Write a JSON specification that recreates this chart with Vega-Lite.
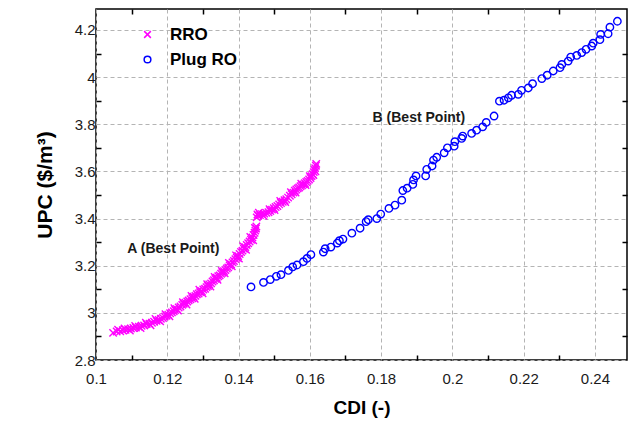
{
  "$schema": "https://vega.github.io/schema/vega-lite/v6.json",
  "width": 531,
  "height": 351,
  "autosize": {"type": "none"},
  "padding": {"left": 96, "top": 9, "right": 6, "bottom": 69},
  "background": "white",
  "config": {
    "view": {"stroke": "black", "strokeWidth": 1.5},
    "font": "Liberation Sans"
  },
  "resolve": {"axis": {"x": "independent", "y": "independent"}},
  "layer": [
    {
      "data": {
        "values": [
          {"x":0.1048,"y":2.915,"s":"RRO"},{"x":0.1058,"y":2.921,"s":"RRO"},{"x":0.1068,"y":2.922,"s":"RRO"},{"x":0.1075,"y":2.926,"s":"RRO"},
          {"x":0.1083,"y":2.928,"s":"RRO"},{"x":0.1090,"y":2.931,"s":"RRO"},{"x":0.1098,"y":2.933,"s":"RRO"},{"x":0.1105,"y":2.936,"s":"RRO"},
          {"x":0.1112,"y":2.938,"s":"RRO"},{"x":0.1120,"y":2.941,"s":"RRO"},{"x":0.1128,"y":2.945,"s":"RRO"},{"x":0.1135,"y":2.947,"s":"RRO"},
          {"x":0.1142,"y":2.952,"s":"RRO"},{"x":0.1150,"y":2.954,"s":"RRO"},{"x":0.1157,"y":2.958,"s":"RRO"},{"x":0.1163,"y":2.962,"s":"RRO"},
          {"x":0.1170,"y":2.966,"s":"RRO"},{"x":0.1176,"y":2.970,"s":"RRO"},{"x":0.1182,"y":2.975,"s":"RRO"},{"x":0.1188,"y":2.978,"s":"RRO"},
          {"x":0.1193,"y":2.984,"s":"RRO"},{"x":0.1198,"y":2.988,"s":"RRO"},{"x":0.1203,"y":2.992,"s":"RRO"},{"x":0.1208,"y":2.998,"s":"RRO"},
          {"x":0.1213,"y":3.002,"s":"RRO"},{"x":0.1218,"y":3.007,"s":"RRO"},{"x":0.1222,"y":3.012,"s":"RRO"},{"x":0.1227,"y":3.016,"s":"RRO"},
          {"x":0.1232,"y":3.023,"s":"RRO"},{"x":0.1237,"y":3.027,"s":"RRO"},{"x":0.1242,"y":3.034,"s":"RRO"},{"x":0.1246,"y":3.038,"s":"RRO"},
          {"x":0.1251,"y":3.043,"s":"RRO"},{"x":0.1256,"y":3.048,"s":"RRO"},{"x":0.1260,"y":3.053,"s":"RRO"},{"x":0.1265,"y":3.058,"s":"RRO"},
          {"x":0.1270,"y":3.062,"s":"RRO"},{"x":0.1274,"y":3.068,"s":"RRO"},{"x":0.1279,"y":3.072,"s":"RRO"},{"x":0.1283,"y":3.079,"s":"RRO"},
          {"x":0.1288,"y":3.082,"s":"RRO"},{"x":0.1292,"y":3.088,"s":"RRO"},{"x":0.1297,"y":3.092,"s":"RRO"},{"x":0.1301,"y":3.099,"s":"RRO"},
          {"x":0.1306,"y":3.102,"s":"RRO"},{"x":0.1310,"y":3.109,"s":"RRO"},{"x":0.1314,"y":3.114,"s":"RRO"},{"x":0.1318,"y":3.121,"s":"RRO"},
          {"x":0.1323,"y":3.125,"s":"RRO"},{"x":0.1327,"y":3.133,"s":"RRO"},{"x":0.1331,"y":3.138,"s":"RRO"},{"x":0.1335,"y":3.144,"s":"RRO"},
          {"x":0.1339,"y":3.149,"s":"RRO"},{"x":0.1343,"y":3.155,"s":"RRO"},{"x":0.1347,"y":3.159,"s":"RRO"},{"x":0.1351,"y":3.166,"s":"RRO"},
          {"x":0.1355,"y":3.170,"s":"RRO"},{"x":0.1359,"y":3.177,"s":"RRO"},{"x":0.1363,"y":3.182,"s":"RRO"},{"x":0.1367,"y":3.188,"s":"RRO"},
          {"x":0.1371,"y":3.193,"s":"RRO"},{"x":0.1375,"y":3.201,"s":"RRO"},{"x":0.1379,"y":3.206,"s":"RRO"},{"x":0.1383,"y":3.214,"s":"RRO"},
          {"x":0.1387,"y":3.220,"s":"RRO"},{"x":0.1391,"y":3.228,"s":"RRO"},{"x":0.1395,"y":3.234,"s":"RRO"},{"x":0.1399,"y":3.241,"s":"RRO"},
          {"x":0.1403,"y":3.250,"s":"RRO"},{"x":0.1407,"y":3.258,"s":"RRO"},{"x":0.1411,"y":3.264,"s":"RRO"},{"x":0.1415,"y":3.272,"s":"RRO"},
          {"x":0.1419,"y":3.279,"s":"RRO"},{"x":0.1423,"y":3.288,"s":"RRO"},{"x":0.1427,"y":3.295,"s":"RRO"},{"x":0.1431,"y":3.303,"s":"RRO"},
          {"x":0.1435,"y":3.310,"s":"RRO"},{"x":0.1439,"y":3.320,"s":"RRO"},{"x":0.1442,"y":3.330,"s":"RRO"},{"x":0.1445,"y":3.340,"s":"RRO"},
          {"x":0.1447,"y":3.349,"s":"RRO"},{"x":0.1449,"y":3.358,"s":"RRO"},{"x":0.1450,"y":3.366,"s":"RRO"},{"x":0.1451,"y":3.405,"s":"RRO"},
          {"x":0.1453,"y":3.417,"s":"RRO"},{"x":0.1455,"y":3.412,"s":"RRO"},{"x":0.1460,"y":3.415,"s":"RRO"},{"x":0.1466,"y":3.419,"s":"RRO"},
          {"x":0.1472,"y":3.421,"s":"RRO"},{"x":0.1478,"y":3.424,"s":"RRO"},{"x":0.1484,"y":3.427,"s":"RRO"},{"x":0.1489,"y":3.432,"s":"RRO"},
          {"x":0.1494,"y":3.438,"s":"RRO"},{"x":0.1499,"y":3.444,"s":"RRO"},{"x":0.1504,"y":3.449,"s":"RRO"},{"x":0.1509,"y":3.453,"s":"RRO"},
          {"x":0.1514,"y":3.460,"s":"RRO"},{"x":0.1519,"y":3.466,"s":"RRO"},{"x":0.1524,"y":3.471,"s":"RRO"},{"x":0.1529,"y":3.478,"s":"RRO"},
          {"x":0.1534,"y":3.482,"s":"RRO"},{"x":0.1539,"y":3.489,"s":"RRO"},{"x":0.1544,"y":3.497,"s":"RRO"},{"x":0.1549,"y":3.503,"s":"RRO"},
          {"x":0.1554,"y":3.510,"s":"RRO"},{"x":0.1558,"y":3.518,"s":"RRO"},{"x":0.1562,"y":3.523,"s":"RRO"},{"x":0.1566,"y":3.528,"s":"RRO"},
          {"x":0.1570,"y":3.532,"s":"RRO"},{"x":0.1574,"y":3.537,"s":"RRO"},{"x":0.1578,"y":3.541,"s":"RRO"},{"x":0.1582,"y":3.545,"s":"RRO"},
          {"x":0.1586,"y":3.550,"s":"RRO"},{"x":0.1590,"y":3.555,"s":"RRO"},{"x":0.1594,"y":3.560,"s":"RRO"},{"x":0.1598,"y":3.566,"s":"RRO"},
          {"x":0.1602,"y":3.572,"s":"RRO"},{"x":0.1605,"y":3.580,"s":"RRO"},{"x":0.1608,"y":3.588,"s":"RRO"},{"x":0.1611,"y":3.597,"s":"RRO"},
          {"x":0.1613,"y":3.606,"s":"RRO"},{"x":0.1615,"y":3.614,"s":"RRO"},{"x":0.1617,"y":3.624,"s":"RRO"},{"x":0.1618,"y":3.632,"s":"RRO"},
          {"x":0.1062,"y":2.928,"s":"RRO"},{"x":0.1080,"y":2.934,"s":"RRO"},{"x":0.1095,"y":2.925,"s":"RRO"},{"x":0.1110,"y":2.944,"s":"RRO"},
          {"x":0.1125,"y":2.936,"s":"RRO"},{"x":0.1140,"y":2.958,"s":"RRO"},{"x":0.1153,"y":2.947,"s":"RRO"},{"x":0.1167,"y":2.974,"s":"RRO"},
          {"x":0.1180,"y":2.964,"s":"RRO"},{"x":0.1195,"y":2.994,"s":"RRO"},{"x":0.1206,"y":2.985,"s":"RRO"},{"x":0.1220,"y":3.020,"s":"RRO"},
          {"x":0.1230,"y":3.010,"s":"RRO"},{"x":0.1244,"y":3.045,"s":"RRO"},{"x":0.1254,"y":3.035,"s":"RRO"},{"x":0.1268,"y":3.072,"s":"RRO"},
          {"x":0.1277,"y":3.060,"s":"RRO"},{"x":0.1290,"y":3.098,"s":"RRO"},{"x":0.1299,"y":3.083,"s":"RRO"},{"x":0.1312,"y":3.122,"s":"RRO"},
          {"x":0.1321,"y":3.112,"s":"RRO"},{"x":0.1333,"y":3.152,"s":"RRO"},{"x":0.1341,"y":3.140,"s":"RRO"},{"x":0.1353,"y":3.178,"s":"RRO"},
          {"x":0.1361,"y":3.168,"s":"RRO"},{"x":0.1373,"y":3.212,"s":"RRO"},{"x":0.1381,"y":3.198,"s":"RRO"},{"x":0.1393,"y":3.244,"s":"RRO"},
          {"x":0.1401,"y":3.230,"s":"RRO"},{"x":0.1413,"y":3.283,"s":"RRO"},{"x":0.1421,"y":3.268,"s":"RRO"},{"x":0.1433,"y":3.322,"s":"RRO"},
          {"x":0.1441,"y":3.308,"s":"RRO"},{"x":0.1446,"y":3.360,"s":"RRO"},{"x":0.1457,"y":3.425,"s":"RRO"},{"x":0.1470,"y":3.412,"s":"RRO"},
          {"x":0.1487,"y":3.440,"s":"RRO"},{"x":0.1501,"y":3.436,"s":"RRO"},{"x":0.1517,"y":3.475,"s":"RRO"},{"x":0.1531,"y":3.470,"s":"RRO"},
          {"x":0.1547,"y":3.512,"s":"RRO"},{"x":0.1560,"y":3.510,"s":"RRO"},{"x":0.1576,"y":3.548,"s":"RRO"},{"x":0.1588,"y":3.542,"s":"RRO"},
          {"x":0.1600,"y":3.580,"s":"RRO"},{"x":0.1610,"y":3.585,"s":"RRO"},{"x":0.1616,"y":3.600,"s":"RRO"},
          {"x":0.1435,"y":3.110,"s":"Plug RO"},{"x":0.1470,"y":3.129,"s":"Plug RO"},{"x":0.1489,"y":3.141,"s":"Plug RO"},{"x":0.1506,"y":3.155,"s":"Plug RO"},
          {"x":0.1519,"y":3.162,"s":"Plug RO"},{"x":0.1540,"y":3.180,"s":"Plug RO"},{"x":0.1552,"y":3.195,"s":"Plug RO"},{"x":0.1564,"y":3.203,"s":"Plug RO"},
          {"x":0.1582,"y":3.217,"s":"Plug RO"},{"x":0.1592,"y":3.231,"s":"Plug RO"},{"x":0.1603,"y":3.247,"s":"Plug RO"},{"x":0.1638,"y":3.258,"s":"Plug RO"},
          {"x":0.1643,"y":3.272,"s":"Plug RO"},{"x":0.1659,"y":3.279,"s":"Plug RO"},{"x":0.1677,"y":3.296,"s":"Plug RO"},{"x":0.1683,"y":3.306,"s":"Plug RO"},
          {"x":0.1693,"y":3.313,"s":"Plug RO"},{"x":0.1718,"y":3.338,"s":"Plug RO"},{"x":0.1741,"y":3.359,"s":"Plug RO"},{"x":0.1758,"y":3.387,"s":"Plug RO"},
          {"x":0.1764,"y":3.395,"s":"Plug RO"},{"x":0.1788,"y":3.400,"s":"Plug RO"},{"x":0.1799,"y":3.419,"s":"Plug RO"},{"x":0.1822,"y":3.443,"s":"Plug RO"},
          {"x":0.1839,"y":3.457,"s":"Plug RO"},{"x":0.1858,"y":3.478,"s":"Plug RO"},{"x":0.1861,"y":3.519,"s":"Plug RO"},{"x":0.1873,"y":3.529,"s":"Plug RO"},
          {"x":0.1889,"y":3.545,"s":"Plug RO"},{"x":0.1891,"y":3.564,"s":"Plug RO"},{"x":0.1898,"y":3.581,"s":"Plug RO"},{"x":0.1925,"y":3.581,"s":"Plug RO"},
          {"x":0.1928,"y":3.609,"s":"Plug RO"},{"x":0.1943,"y":3.623,"s":"Plug RO"},{"x":0.1947,"y":3.648,"s":"Plug RO"},{"x":0.1956,"y":3.660,"s":"Plug RO"},
          {"x":0.1977,"y":3.679,"s":"Plug RO"},{"x":0.1986,"y":3.700,"s":"Plug RO"},{"x":0.2005,"y":3.707,"s":"Plug RO"},{"x":0.2007,"y":3.726,"s":"Plug RO"},
          {"x":0.2026,"y":3.740,"s":"Plug RO"},{"x":0.2029,"y":3.750,"s":"Plug RO"},{"x":0.2054,"y":3.761,"s":"Plug RO"},{"x":0.2068,"y":3.775,"s":"Plug RO"},
          {"x":0.2085,"y":3.789,"s":"Plug RO"},{"x":0.2095,"y":3.808,"s":"Plug RO"},{"x":0.2117,"y":3.835,"s":"Plug RO"},{"x":0.2132,"y":3.898,"s":"Plug RO"},
          {"x":0.2145,"y":3.902,"s":"Plug RO"},{"x":0.2157,"y":3.912,"s":"Plug RO"},{"x":0.2166,"y":3.923,"s":"Plug RO"},{"x":0.2185,"y":3.927,"s":"Plug RO"},
          {"x":0.2194,"y":3.944,"s":"Plug RO"},{"x":0.2213,"y":3.954,"s":"Plug RO"},{"x":0.2225,"y":3.972,"s":"Plug RO"},{"x":0.2251,"y":3.994,"s":"Plug RO"},
          {"x":0.2266,"y":4.008,"s":"Plug RO"},{"x":0.2283,"y":4.026,"s":"Plug RO"},{"x":0.2302,"y":4.040,"s":"Plug RO"},{"x":0.2307,"y":4.054,"s":"Plug RO"},
          {"x":0.2325,"y":4.068,"s":"Plug RO"},{"x":0.2332,"y":4.085,"s":"Plug RO"},{"x":0.2349,"y":4.092,"s":"Plug RO"},{"x":0.2363,"y":4.104,"s":"Plug RO"},
          {"x":0.2375,"y":4.118,"s":"Plug RO"},{"x":0.2391,"y":4.132,"s":"Plug RO"},{"x":0.2395,"y":4.144,"s":"Plug RO"},{"x":0.2414,"y":4.159,"s":"Plug RO"},
          {"x":0.2416,"y":4.181,"s":"Plug RO"},{"x":0.2437,"y":4.184,"s":"Plug RO"},{"x":0.2442,"y":4.212,"s":"Plug RO"},{"x":0.2463,"y":4.237,"s":"Plug RO"}
        ]
      },
      "mark": {"type": "point", "filled": false, "strokeWidth": 1.4, "size": 55, "opacity": 1},
      "encoding": {
        "x": {
          "field": "x", "type": "quantitative",
          "scale": {"domain": [0.1, 0.249], "nice": false, "zero": false},
          "axis": {
            "orient": "bottom",
            "values": [0.1,0.11,0.12,0.13,0.14,0.15,0.16,0.17,0.18,0.19,0.2,0.21,0.22,0.23,0.24],
            "labelExpr": "round(datum.value*100)%2==0 ? format(datum.value,'') : ''",
            "labelFlush": false,
            "domain": false,
            "grid": true,
            "gridColor": "#b4b4b4",
            "gridDash": [4, 3],
            "gridWidth": 1,
            "gridOpacity": {"condition": {"test": "round(datum.value*100)%2==0", "value": 1}, "value": 0},
            "tickOpacity": {"condition": {"test": "round(datum.value*100)%2==1", "value": 1}, "value": 0},
            "tickColor": "black",
            "tickWidth": 1.5,
            "tickSize": -5,
            "labelPadding": 16,
            "labelFontSize": 15,
            "labelColor": "#1a1a1a",
            "labelFont": "Liberation Sans",
            "title": "CDI (-)",
            "titleFontSize": 19,
            "titleFontWeight": "bold",
            "titleColor": "black",
            "titlePadding": 12
          }
        },
        "y": {
          "field": "y", "type": "quantitative",
          "scale": {"domain": [2.8, 4.289], "nice": false, "zero": false},
          "axis": {
            "orient": "left",
            "values": [2.8,2.9,3.0,3.1,3.2,3.3,3.4,3.5,3.6,3.7,3.8,3.9,4.0,4.1,4.2],
            "labelExpr": "round(datum.value*10)%2==0 ? format(datum.value,'') : ''",
            "labelFlush": false,
            "domain": false,
            "grid": true,
            "gridColor": "#b4b4b4",
            "gridDash": [4, 3],
            "gridWidth": 1,
            "gridOpacity": {"condition": {"test": "round(datum.value*10)%2==0", "value": 1}, "value": 0},
            "tickOpacity": {"condition": {"test": "round(datum.value*10)%2==1", "value": 1}, "value": 0},
            "tickColor": "black",
            "tickWidth": 1.5,
            "tickSize": -5,
            "labelPadding": 6,
            "labelFontSize": 15,
            "labelColor": "#1a1a1a",
            "labelFont": "Liberation Sans",
            "title": "UPC ($/m³)",
            "titleFontSize": 21,
            "titleFontWeight": "bold",
            "titleColor": "black",
            "titlePadding": 19
          }
        },
        "color": {
          "field": "s", "type": "nominal",
          "scale": {"domain": ["RRO", "Plug RO"], "range": ["#ff00ff", "#0000ff"]},
          "legend": {
            "orient": "none",
            "legendX": 43,
            "legendY": 17,
            "title": null,
            "padding": 0,
            "rowPadding": 7,
            "symbolSize": 45,
            "symbolStrokeWidth": 1.5,
            "labelOffset": 14,
            "labelFontSize": 17,
            "labelFontWeight": "bold",
            "labelColor": "black",
            "labelFont": "Liberation Sans"
          }
        },
        "shape": {
          "field": "s", "type": "nominal",
          "scale": {"domain": ["RRO", "Plug RO"], "range": ["M-1,-1L1,1M-1,1L1,-1", "circle"]}
        }
      }
    },
    {
      "data": {
        "values": [
          {"x": 0.1217, "y": 3.27, "label": "A (Best Point)"},
          {"x": 0.1906, "y": 3.825, "label": "B (Best Point)"}
        ]
      },
      "mark": {"type": "text", "fontSize": 14, "fontWeight": "bold", "color": "#1a1a1a", "font": "Liberation Sans", "align": "center", "baseline": "middle"},
      "encoding": {
        "x": {
          "field": "x", "type": "quantitative",
          "axis": {
            "orient": "top",
            "values": [0.11,0.13,0.15,0.17,0.19,0.21,0.23],
            "labels": false, "domain": false, "grid": false,
            "tickColor": "black", "tickWidth": 1.5, "tickSize": -5, "title": null
          }
        },
        "y": {
          "field": "y", "type": "quantitative",
          "axis": {
            "orient": "right",
            "values": [2.9,3.1,3.3,3.5,3.7,3.9,4.1],
            "labels": false, "domain": false, "grid": false,
            "tickColor": "black", "tickWidth": 1.5, "tickSize": -5, "title": null
          }
        },
        "text": {"field": "label", "type": "nominal"}
      }
    }
  ]
}
